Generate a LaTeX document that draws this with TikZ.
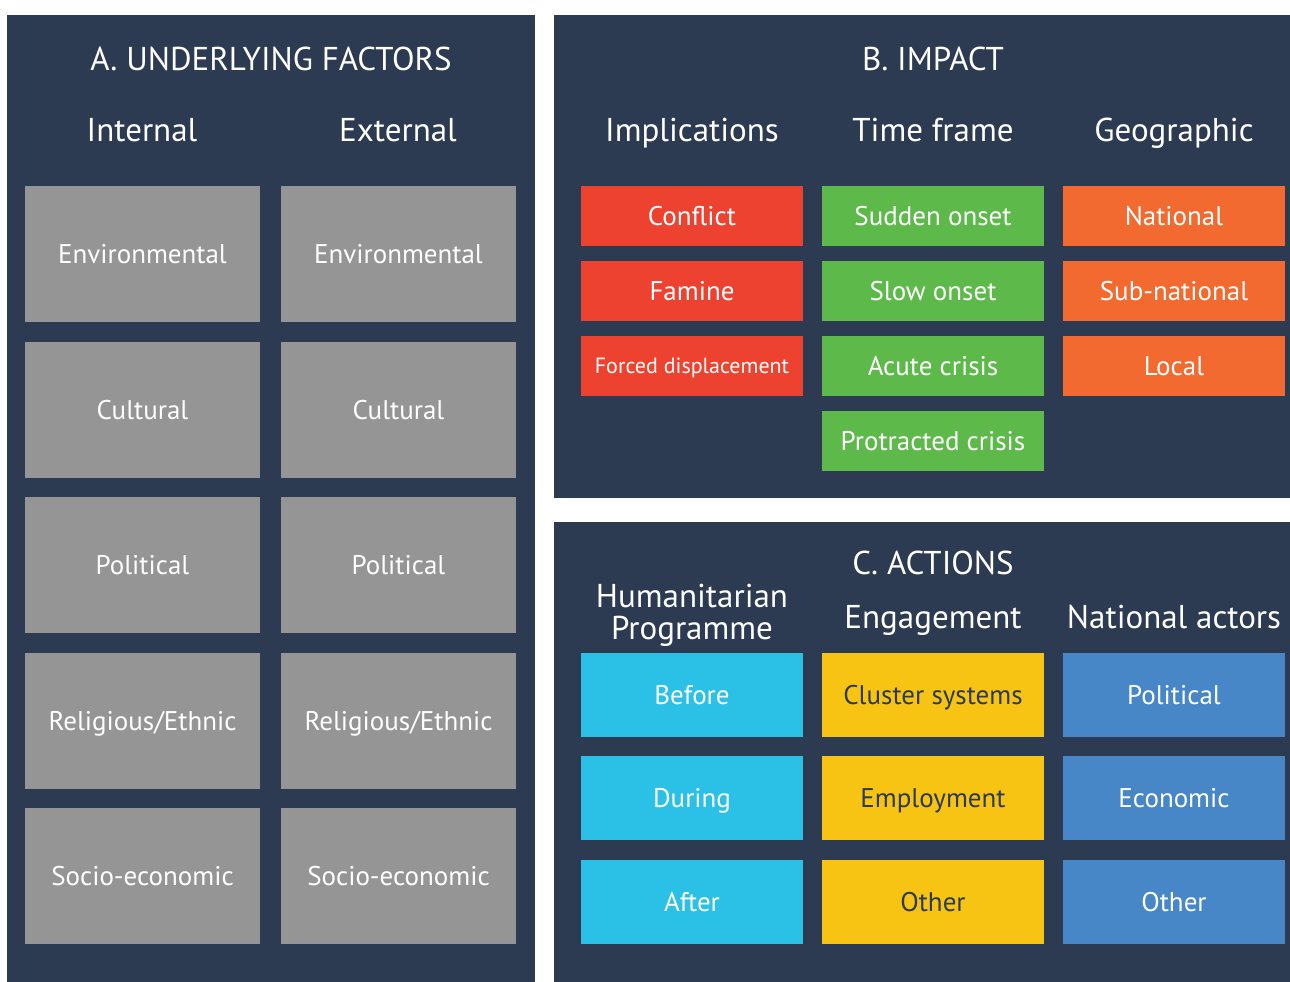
\documentclass[tikz,border=0pt]{standalone}
\usepackage{fontspec}
\setmainfont{PT Sans}
\usepackage{tikz}
\usetikzlibrary{positioning}
\definecolor{navy}{HTML}{2C3A52}
\definecolor{factgray}{HTML}{959595}
\definecolor{impred}{HTML}{EE4230}
\definecolor{impgreen}{HTML}{5DBA4A}
\definecolor{imporange}{HTML}{F26A30}
\definecolor{actcyan}{HTML}{2BC0E6}
\definecolor{actyellow}{HTML}{F8C414}
\definecolor{actblue}{HTML}{4787C8}
\tikzset{title/.style={text=white,inner sep=0pt,text height=23pt,text depth=0pt,font=\fontsize{33}{36}\selectfont},
		heading/.style={text=white,inner sep=0pt,text height=23pt,text depth=0pt,font=\fontsize{33}{36}\selectfont},
		factor/.style={minimum width=235pt,minimum height=136pt,inner sep=0pt,fill=factgray,text=white,text height=19pt,text depth=0pt,font=\fontsize{27}{30}\selectfont},
		impact/.style={minimum width=222pt,minimum height=60pt,inner sep=0pt,text=white,text height=19pt,text depth=0pt,font=\fontsize{27}{30}\selectfont},
		action/.style={minimum width=222pt,minimum height=84pt,inner sep=0pt,text=white,text height=19pt,text depth=0pt,font=\fontsize{27}{30}\selectfont}}

\begin{document}
\begin{tikzpicture}[x=1pt,y=-1pt]
		\useasboundingbox[fill=white] (0,0) rectangle (1290,982);
		% panels
		\fill[navy] (7,15) rectangle (535,982);
		\fill[navy] (554,15) rectangle (1290,498);
		\fill[navy] (554,522) rectangle (1290,982);

		% A. underlying factors
		\node[title] (title-a) at (271,59) {A. UNDERLYING FACTORS};
		\node[heading] (internal) at (142,130) {Internal};
		\node[heading] (external) at (398,130) {External};
		\node[factor] (int-env) at (142.5,254) {Environmental};
		\node[factor] (int-cult) at (142.5,410) {Cultural};
		\node[factor] (int-pol) at (142.5,565) {Political};
		\node[factor] (int-rel) at (142.5,721) {Religious/Ethnic};
		\node[factor] (int-soc) at (142.5,876) {Socio-economic};
		\node[factor] (ext-env) at (398.5,254) {Environmental};
		\node[factor] (ext-cult) at (398.5,410) {Cultural};
		\node[factor] (ext-pol) at (398.5,565) {Political};
		\node[factor] (ext-rel) at (398.5,721) {Religious/Ethnic};
		\node[factor] (ext-soc) at (398.5,876) {Socio-economic};

		% B. impact
		\node[title] (title-b) at (933,59) {B. IMPACT};
		\node[heading] (implications) at (692,130) {Implications};
		\node[heading] (timeframe) at (933,130) {Time frame};
		\node[heading] (geographic) at (1174,130) {Geographic};
		\node[impact,fill=impred] (conflict) at (692,216) {Conflict};
		\node[impact,fill=impred] (famine) at (692,291) {Famine};
		\node[impact,fill=impred,text height=15.5pt,font=\fontsize{22}{26}\selectfont] (displacement) at (692,366) {Forced displacement};
		\node[impact,fill=impgreen] (sudden) at (933,216) {Sudden onset};
		\node[impact,fill=impgreen] (slow) at (933,291) {Slow onset};
		\node[impact,fill=impgreen] (acute) at (933,366) {Acute crisis};
		\node[impact,fill=impgreen] (protracted) at (933,441) {Protracted crisis};
		\node[impact,fill=imporange] (national) at (1174,216) {National};
		\node[impact,fill=imporange] (subnational) at (1174,291) {Sub-national};
		\node[impact,fill=imporange] (local) at (1174,366) {Local};

		% C. actions
		\node[title] (title-c) at (933,563) {C. ACTIONS};
		\node[text=white,inner sep=0pt,align=center,font=\fontsize{33}{32}\selectfont] (programme) at (692,615) {Humanitarian\\Programme};
		\node[heading] (engagement) at (933,617) {Engagement};
		\node[heading] (actors) at (1174,617) {National actors};
		\node[action,fill=actcyan] (before) at (692,695) {Before};
		\node[action,fill=actcyan] (during) at (692,798) {During};
		\node[action,fill=actcyan] (after) at (692,902) {After};
		\node[action,fill=actyellow,text=navy] (cluster) at (933,695) {Cluster systems};
		\node[action,fill=actyellow,text=navy] (employment) at (933,798) {Employment};
		\node[action,fill=actyellow,text=navy] (other-eng) at (933,902) {Other};
		\node[action,fill=actblue] (political) at (1174,695) {Political};
		\node[action,fill=actblue] (economic) at (1174,798) {Economic};
		\node[action,fill=actblue] (other-nat) at (1174,902) {Other};
	\end{tikzpicture}
\end{document}
